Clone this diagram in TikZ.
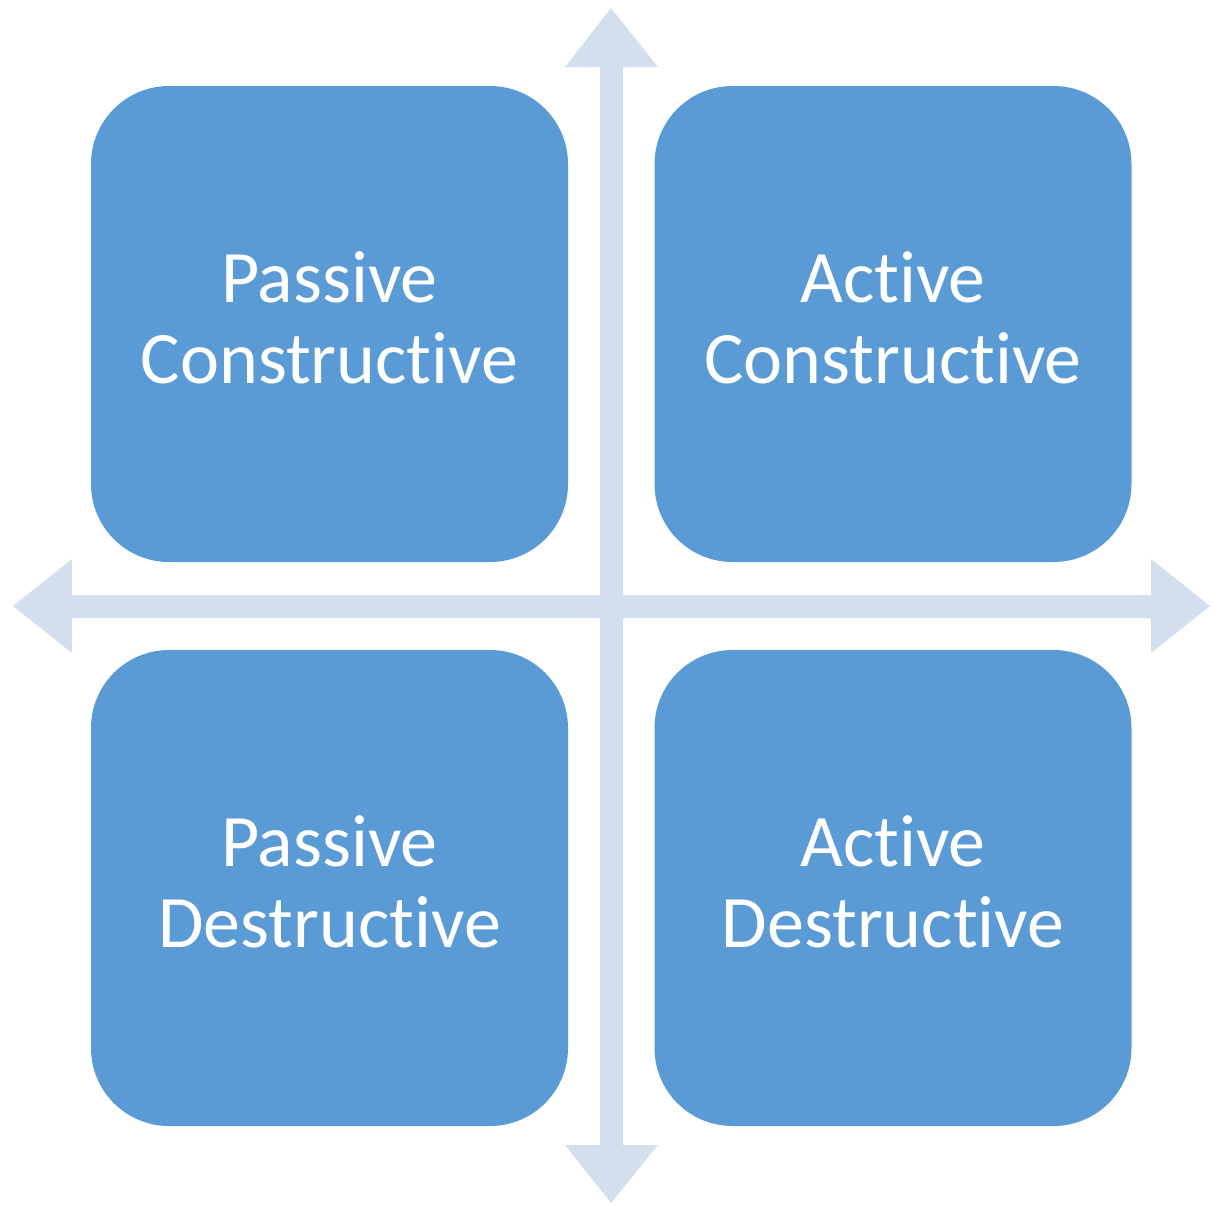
\documentclass[tikz,border=0pt]{standalone}
\usepackage{fontspec}
\setmainfont{Carlito}[Ligatures=NoCommon]
\definecolor{boxblue}{HTML}{5B9BD5}
\definecolor{axisblue}{HTML}{D3DEEF}
\begin{document}
\begin{tikzpicture}[x=1pt,y=-1pt,
  quad/.style={fill=boxblue, rounded corners=78pt, minimum width=477pt, minimum height=476pt, inner sep=0pt},
  label/.style={text=white, font=\fontsize{74}{81}\selectfont, align=center, inner sep=0pt}]
\useasboundingbox (0,0) rectangle (1217,1205);
\fill[axisblue] (600,67) -- (565,67) -- (611,8) -- (658,67) -- (623,67) -- (623,595)
  -- (1151,595) -- (1151,559) -- (1210,606) -- (1151,653) -- (1151,618) -- (623,618)
  -- (623,1145) -- (658,1145) -- (611,1203) -- (565,1145) -- (600,1145) -- (600,618)
  -- (72,618) -- (72,653) -- (13,606) -- (72,559) -- (72,595) -- (600,595) -- cycle;
\node[quad] (pc) at (329.5,324) {};
\node[quad] (ac) at (893,324) {};
\node[quad] (pd) at (329.5,888) {};
\node[quad] (ad) at (893,888) {};
\node[label] (pct) at ([yshift=6pt]pc.center) {Passive\\Constructive};
\node[label] (act) at ([yshift=6pt]ac.center) {Active\\Constructive};
\node[label] (pdt) at ([yshift=6pt]pd.center) {Passive\\Destructive};
\node[label] (adt) at ([yshift=6pt]ad.center) {Active\\Destructive};
\end{tikzpicture}
\end{document}
